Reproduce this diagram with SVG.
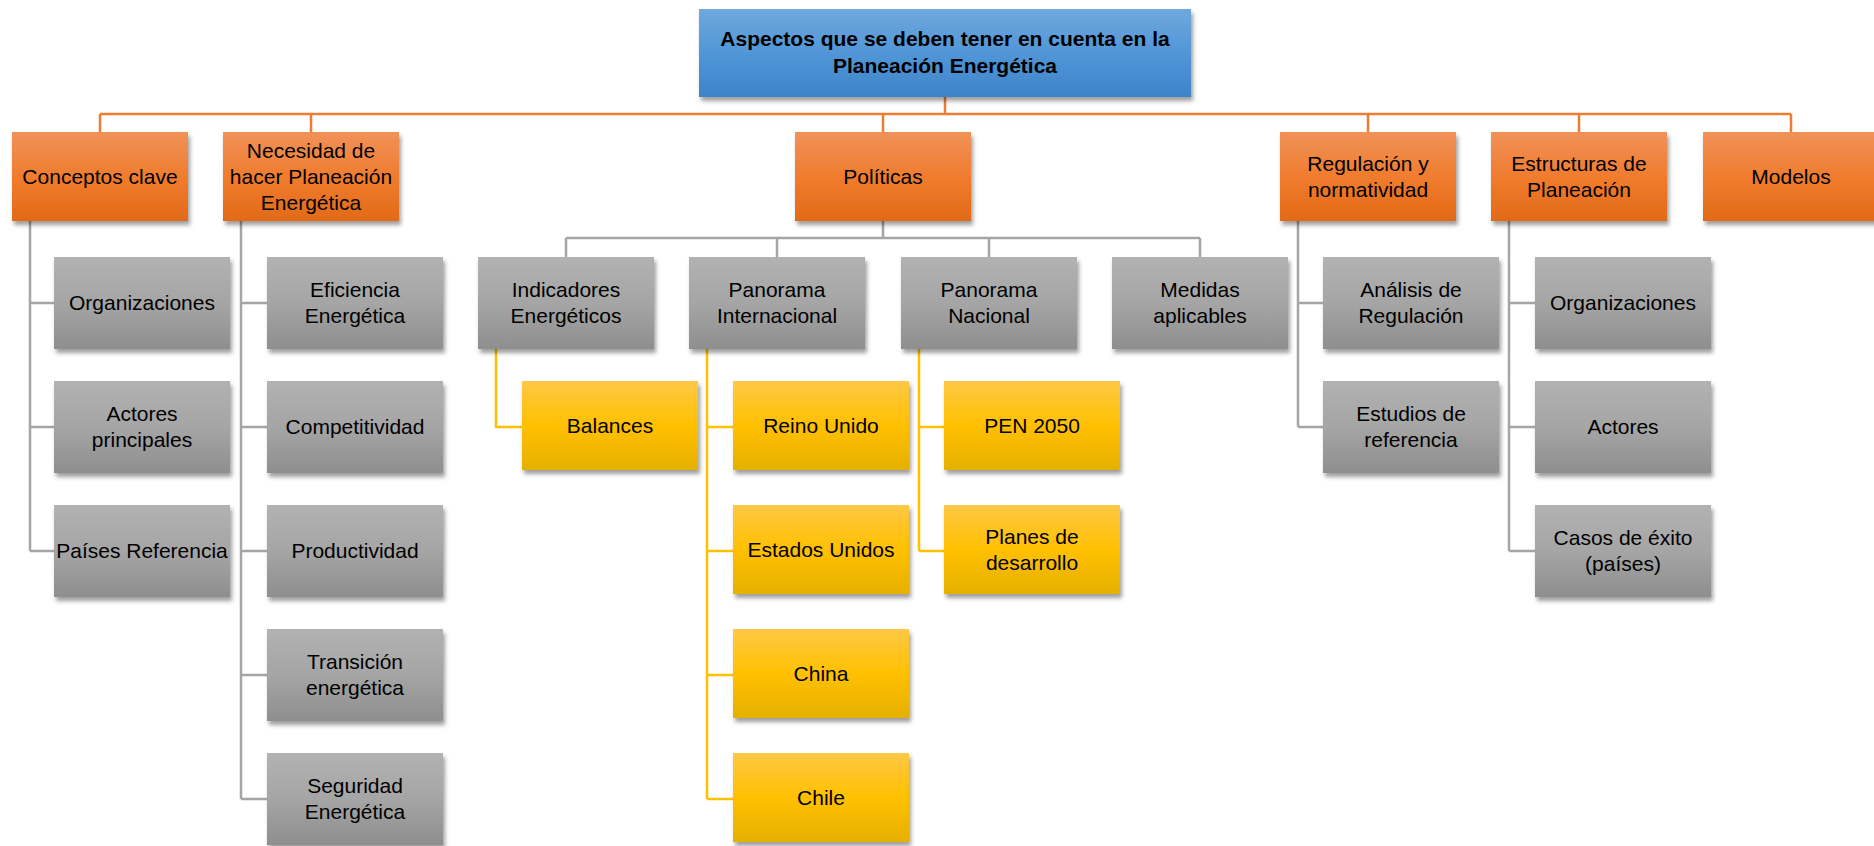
<svg xmlns="http://www.w3.org/2000/svg" width="1874" height="846" viewBox="0 0 1874 846">
<style>
text{font-family:"Liberation Sans",Arial,sans-serif;font-size:21px;fill:#000;text-anchor:middle}
.root text{font-weight:bold}
.o{fill:url(#gO)}.g{fill:url(#gG)}.y{fill:url(#gY)}.b{fill:url(#gB)}
.box{filter:url(#sh)}
.lo{stroke:#ED7D31;stroke-width:2.5;fill:none}
.lg{stroke:#A5A5A5;stroke-width:2.5;fill:none}
.ly{stroke:#FFC000;stroke-width:2.5;fill:none}
</style>
<defs>
<linearGradient id="gO" x1="0" y1="0" x2="0" y2="1"><stop offset="0" stop-color="#F09259"/><stop offset="0.5" stop-color="#F07C2E"/><stop offset="1" stop-color="#E26A17"/></linearGradient>
<linearGradient id="gG" x1="0" y1="0" x2="0" y2="1"><stop offset="0" stop-color="#B2B2B2"/><stop offset="0.5" stop-color="#A5A5A5"/><stop offset="1" stop-color="#8E8E8E"/></linearGradient>
<linearGradient id="gY" x1="0" y1="0" x2="0" y2="1"><stop offset="0" stop-color="#FFC846"/><stop offset="0.5" stop-color="#FFC000"/><stop offset="1" stop-color="#E6B000"/></linearGradient>
<linearGradient id="gB" x1="0" y1="0" x2="0" y2="1"><stop offset="0" stop-color="#6FA8DD"/><stop offset="0.5" stop-color="#5196D7"/><stop offset="1" stop-color="#3D84C8"/></linearGradient>
<filter id="sh" x="-10%" y="-10%" width="120%" height="130%"><feDropShadow dx="2" dy="4" stdDeviation="2" flood-color="#000" flood-opacity="0.38"/></filter>
</defs>
<g id="connectors">
<path class="lo" d="M945 97V114M100 114H1791M100 114V132M311 114V132M883 114V132M1368 114V132M1579 114V132M1791 114V132"/>
<path class="lg" d="M30 221V551M30 303H54M30 427H54M30 551H54"/>
<path class="lg" d="M241 221V799M241 303H267M241 427H267M241 551H267M241 675H267M241 799H267"/>
<path class="lg" d="M883 221V238M566 238H1200M566 238V257M777 238V257M989 238V257M1200 238V257"/>
<path class="lg" d="M1298 221V427M1298 303H1323M1298 427H1323"/>
<path class="lg" d="M1509 221V551M1509 303H1535M1509 427H1535M1509 551H1535"/>
<path class="ly" d="M496 349V427H522"/>
<path class="ly" d="M707 349V799M707 427H733M707 551H733M707 675H733M707 799H733"/>
<path class="ly" d="M919 349V551M919 427H944M919 551H944"/>
</g>
<g id="root" class="root"><rect class="box b" x="699" y="9" width="492" height="88"/><text x="945" y="46">Aspectos que se deben tener en cuenta en la</text><text x="945" y="73">Planeación Energética</text></g>
<g id="conceptos"><rect class="box o" x="12" y="132" width="176" height="89"/><text x="100" y="184">Conceptos clave</text></g>
<g id="necesidad"><rect class="box o" x="223" y="132" width="176" height="89"/><text x="311" y="158">Necesidad de</text><text x="311" y="184">hacer Planeación</text><text x="311" y="210">Energética</text></g>
<g id="politicas"><rect class="box o" x="795" y="132" width="176" height="89"/><text x="883" y="184">Políticas</text></g>
<g id="regulacion"><rect class="box o" x="1280" y="132" width="176" height="89"/><text x="1368" y="171">Regulación y</text><text x="1368" y="197">normatividad</text></g>
<g id="estructuras"><rect class="box o" x="1491" y="132" width="176" height="89"/><text x="1579" y="171">Estructuras de</text><text x="1579" y="197">Planeación</text></g>
<g id="modelos"><rect class="box o" x="1703" y="132" width="176" height="89"/><text x="1791" y="184">Modelos</text></g>
<g id="c-organizaciones"><rect class="box g" x="54" y="257" width="176" height="92"/><text x="142" y="310">Organizaciones</text></g>
<g id="c-actores"><rect class="box g" x="54" y="381" width="176" height="92"/><text x="142" y="421">Actores</text><text x="142" y="447">principales</text></g>
<g id="c-paises"><rect class="box g" x="54" y="505" width="176" height="92"/><text x="142" y="558">Países Referencia</text></g>
<g id="n-eficiencia"><rect class="box g" x="267" y="257" width="176" height="92"/><text x="355" y="297">Eficiencia</text><text x="355" y="323">Energética</text></g>
<g id="n-competitividad"><rect class="box g" x="267" y="381" width="176" height="92"/><text x="355" y="434">Competitividad</text></g>
<g id="n-productividad"><rect class="box g" x="267" y="505" width="176" height="92"/><text x="355" y="558">Productividad</text></g>
<g id="n-transicion"><rect class="box g" x="267" y="629" width="176" height="92"/><text x="355" y="669">Transición</text><text x="355" y="695">energética</text></g>
<g id="n-seguridad"><rect class="box g" x="267" y="753" width="176" height="92"/><text x="355" y="793">Seguridad</text><text x="355" y="819">Energética</text></g>
<g id="p-indicadores"><rect class="box g" x="478" y="257" width="176" height="92"/><text x="566" y="297">Indicadores</text><text x="566" y="323">Energéticos</text></g>
<g id="p-internacional"><rect class="box g" x="689" y="257" width="176" height="92"/><text x="777" y="297">Panorama</text><text x="777" y="323">Internacional</text></g>
<g id="p-nacional"><rect class="box g" x="901" y="257" width="176" height="92"/><text x="989" y="297">Panorama</text><text x="989" y="323">Nacional</text></g>
<g id="p-medidas"><rect class="box g" x="1112" y="257" width="176" height="92"/><text x="1200" y="297">Medidas</text><text x="1200" y="323">aplicables</text></g>
<g id="y-balances"><rect class="box y" x="522" y="381" width="176" height="89"/><text x="610" y="433">Balances</text></g>
<g id="y-reino"><rect class="box y" x="733" y="381" width="176" height="89"/><text x="821" y="433">Reino Unido</text></g>
<g id="y-estados"><rect class="box y" x="733" y="505" width="176" height="89"/><text x="821" y="557">Estados Unidos</text></g>
<g id="y-china"><rect class="box y" x="733" y="629" width="176" height="89"/><text x="821" y="681">China</text></g>
<g id="y-chile"><rect class="box y" x="733" y="753" width="176" height="89"/><text x="821" y="805">Chile</text></g>
<g id="y-pen"><rect class="box y" x="944" y="381" width="176" height="89"/><text x="1032" y="433">PEN 2050</text></g>
<g id="y-planes"><rect class="box y" x="944" y="505" width="176" height="89"/><text x="1032" y="544">Planes de</text><text x="1032" y="570">desarrollo</text></g>
<g id="r-analisis"><rect class="box g" x="1323" y="257" width="176" height="92"/><text x="1411" y="297">Análisis de</text><text x="1411" y="323">Regulación</text></g>
<g id="r-estudios"><rect class="box g" x="1323" y="381" width="176" height="92"/><text x="1411" y="421">Estudios de</text><text x="1411" y="447">referencia</text></g>
<g id="e-organizaciones"><rect class="box g" x="1535" y="257" width="176" height="92"/><text x="1623" y="310">Organizaciones</text></g>
<g id="e-actores"><rect class="box g" x="1535" y="381" width="176" height="92"/><text x="1623" y="434">Actores</text></g>
<g id="e-casos"><rect class="box g" x="1535" y="505" width="176" height="92"/><text x="1623" y="545">Casos de éxito</text><text x="1623" y="571">(países)</text></g>
</svg>
